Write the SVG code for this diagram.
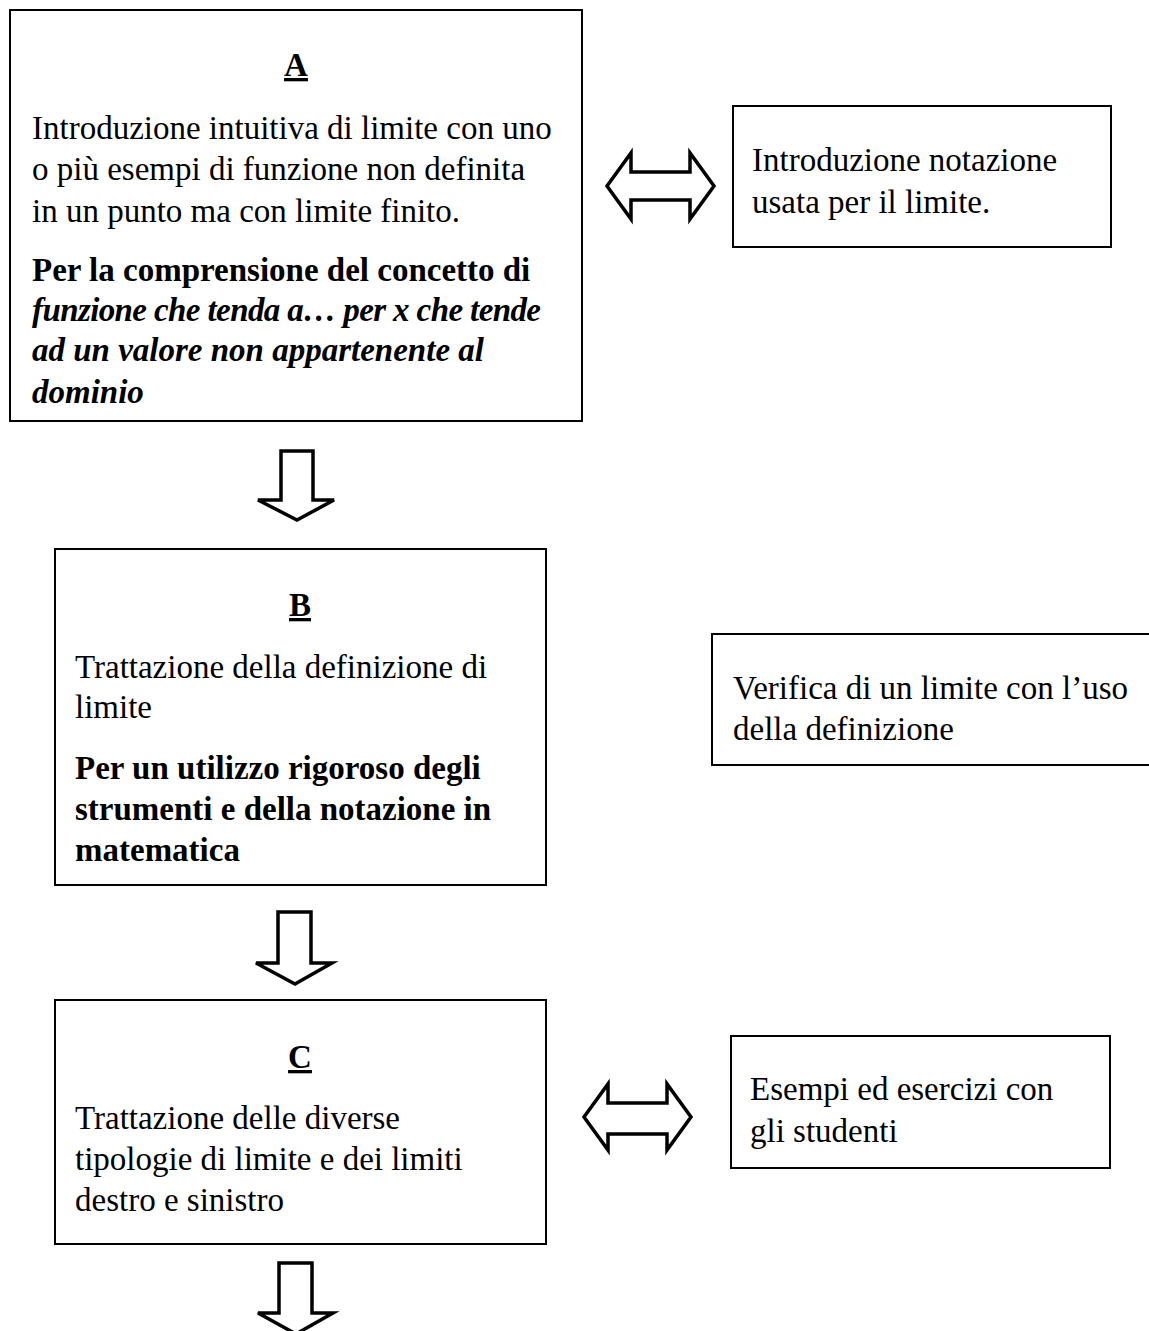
<svg xmlns="http://www.w3.org/2000/svg" width="1149" height="1331" viewBox="0 0 1149 1331">
<style>
.box{fill:#fff;stroke:#000;stroke-width:2}
.arr{fill:#fff;stroke:#000;stroke-width:3.5;stroke-linejoin:miter}
text{font-family:"Liberation Serif","Times New Roman",serif;font-size:33px;fill:#000}
.h{font-weight:bold;text-decoration:underline;text-anchor:middle}
.b{font-weight:bold}
.bi{font-weight:bold;font-style:italic}
</style>
<rect width="1149" height="1331" fill="#fff"/>
<g id="connectors">
<path class="arr" d="M607,186 L631,153 L631,172 L690,172 L690,153 L714,186 L690,219 L690,200 L631,200 L631,219 Z"/>
<path class="arr" d="M281,451 L313,451 L313,500 L334,500 L297,520 L258,500 L281,500 Z"/>
<path class="arr" d="M278,912 L311,912 L311,963 L332,963 L295,984 L256,963 L278,963 Z"/>
<path class="arr" d="M584,1117 L608,1084 L608,1103 L667,1103 L667,1084 L691,1117 L667,1150 L667,1134 L608,1134 L608,1150 Z"/>
<path class="arr" d="M279,1263 L312,1263 L312,1313 L333,1313 L296,1334 L258,1313 L279,1313 Z"/>
</g>
<g id="nodeA">
<rect class="box" x="10" y="10" width="572" height="411"/>
<text class="h" x="296" y="76">A</text>
<text x="32" y="139">Introduzione intuitiva di limite con uno</text>
<text x="32" y="180">o più esempi di funzione non definita</text>
<text x="32" y="222">in un punto ma con limite finito.</text>
<text class="b" x="32" y="281">Per la comprensione del concetto di</text>
<text class="bi" x="32" y="321" textLength="509" lengthAdjust="spacing">funzione che tenda a… per x che tende</text>
<text class="bi" x="32" y="361">ad un valore non appartenente al</text>
<text class="bi" x="32" y="403">dominio</text>
</g>
<g id="nodeNotazione">
<rect class="box" x="733" y="106" width="378" height="141"/>
<text x="752" y="171">Introduzione notazione</text>
<text x="752" y="213">usata per il limite.</text>
</g>
<g id="nodeB">
<rect class="box" x="55" y="549" width="491" height="336"/>
<text class="h" x="300" y="616">B</text>
<text x="75" y="678">Trattazione della definizione di</text>
<text x="75" y="718">limite</text>
<text class="b" x="75" y="779">Per un utilizzo rigoroso degli</text>
<text class="b" x="75" y="820">strumenti e della notazione in</text>
<text class="b" x="75" y="861">matematica</text>
</g>
<g id="nodeVerifica">
<rect class="box" x="712" y="634" width="440" height="131"/>
<text x="733" y="699">Verifica di un limite con l’uso</text>
<text x="733" y="740">della definizione</text>
</g>
<g id="nodeC">
<rect class="box" x="55" y="1000" width="491" height="244"/>
<text class="h" x="300" y="1068">C</text>
<text x="75" y="1129">Trattazione delle diverse</text>
<text x="75" y="1170">tipologie di limite e dei limiti</text>
<text x="75" y="1211">destro e sinistro</text>
</g>
<g id="nodeEsempi">
<rect class="box" x="731" y="1036" width="379" height="132"/>
<text x="750" y="1100">Esempi ed esercizi con</text>
<text x="750" y="1142">gli studenti</text>
</g>
</svg>
